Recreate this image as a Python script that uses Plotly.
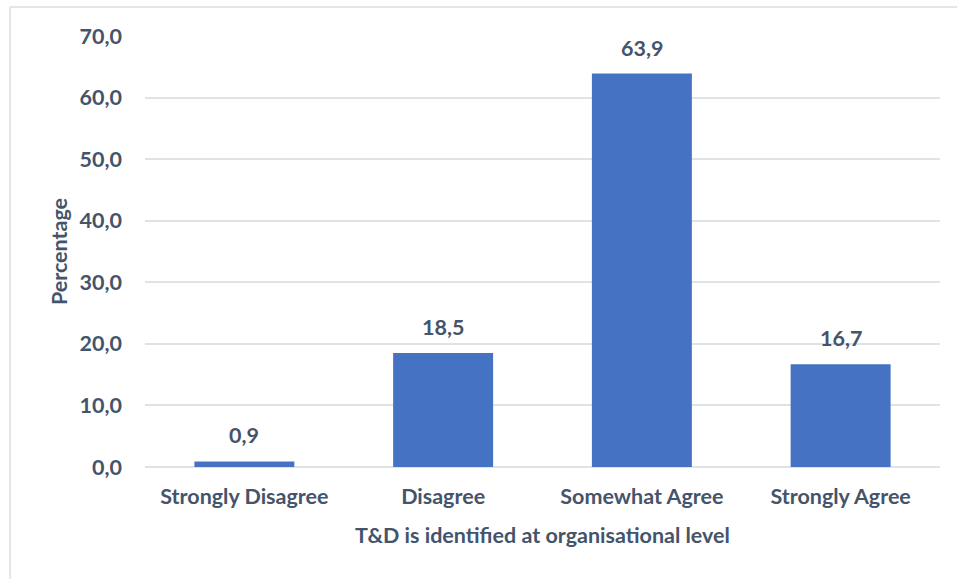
import plotly.graph_objects as go

categories = ["Strongly Disagree", "Disagree", "Somewhat Agree", "Strongly Agree"]
percentages = [0.9, 18.5, 63.9, 16.7]
y_ticks = [0, 10, 20, 30, 40, 50, 60, 70]

W, H = 958, 579
L, R, T, B = 145, 18, 36, 112
TEXT = "#44546A"
GRID = "#DFE2E6"
FONT = "Lato"
FS = 21.5

fig = go.Figure()
fig.add_trace(go.Bar(
    x=categories,
    y=percentages,
    width=0.503,
    marker=dict(color="#4572C3", line=dict(width=0)),
    hoverinfo="skip",
))

# value labels above each bar
for c, v in zip(categories, percentages):
    fig.add_annotation(
        x=c, y=v, text=f"{v:.1f}".replace(".", ","),
        showarrow=False, yanchor="bottom", yshift=11,
        font=dict(family=FONT, size=FS, color=TEXT, weight="bold"),
    )

# thin frame along the left and top edges of the chart
pw = W - L - R
ph = H - T - B
fx0 = (10 - L) / pw
fy1 = 1 + (T - 7) / ph
fy0 = -(H - T - ph) / ph
fx1 = 1 + (R - 1) / pw
fig.add_shape(type="line", xref="paper", yref="paper", x0=fx0, x1=fx0, y0=fy0, y1=fy1,
              line=dict(color="#E3E6EA", width=2))
fig.add_shape(type="line", xref="paper", yref="paper", x0=fx0, x1=fx1, y0=fy1, y1=fy1,
              line=dict(color="#E3E6EA", width=2))

fig.update_layout(
    width=W, height=H,
    margin=dict(l=L, r=R, t=T, b=B, pad=0),
    paper_bgcolor="white",
    plot_bgcolor="white",
    separators=",.",
    showlegend=False,
    bargap=0.497,
    font=dict(family=FONT, size=FS, color=TEXT),
    xaxis=dict(
        showgrid=False,
        showline=False,
        ticks="",
        ticklabelstandoff=14,
        tickfont=dict(family=FONT, size=FS, color=TEXT, weight="bold"),
        title=dict(text="T&D is identified at organisational level",
                   font=dict(family=FONT, size=FS, color=TEXT, weight="bold"),
                   standoff=20),
    ),
    yaxis=dict(
        range=[0, 70],
        tickvals=y_ticks,
        tickformat=".1f",
        showgrid=True,
        gridcolor=GRID,
        gridwidth=2,
        zeroline=True,
        zerolinecolor=GRID,
        zerolinewidth=2,
        showline=False,
        ticks="",
        ticklabelstandoff=22,
        tickfont=dict(family=FONT, size=FS, color=TEXT, weight="bold"),
        title=dict(text="Percentage",
                   font=dict(family=FONT, size=FS, color=TEXT, weight="bold"),
                   standoff=6),
    ),
)

fig.write_html("out.html")
